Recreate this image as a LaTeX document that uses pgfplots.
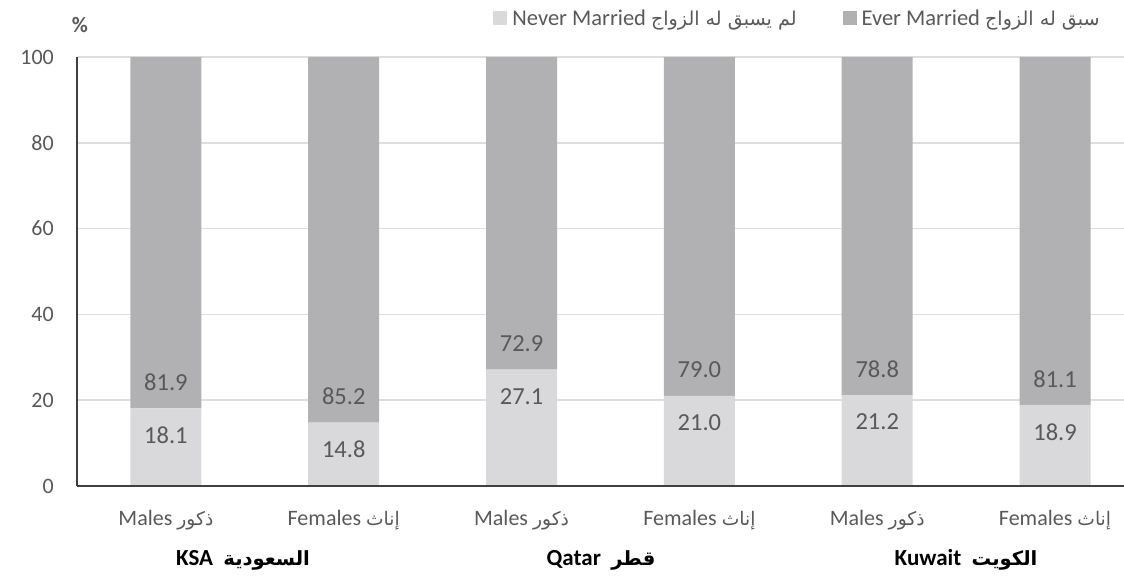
\documentclass[border=0pt]{standalone}
\usepackage{pgfplots}
\pgfplotsset{compat=1.18}
\usepackage{pgfplotstable}
\usepackage{fontspec}
\setmainfont{Carlito}
\newfontfamily\arabicfont[Script=Arabic,Scale=0.85]{DejaVu Sans}
\TeXXeTstate=1
\definecolor{nevc}{HTML}{D9D9DB}
\definecolor{evc}{HTML}{B1B1B3}
\definecolor{txt}{HTML}{595959}
\definecolor{gridc}{HTML}{DEDEDE}
\definecolor{axl}{HTML}{404040}
\newcommand{\ar}[1]{{\arabicfont\beginR #1\endR}}

\pgfplotstableread{
x never ever
0 18.1 81.9
1 14.8 85.2
2 27.1 72.9
3 21.0 79.0
4 21.2 78.8
5 18.9 81.1
}\datatable

\begin{document}
\begin{tikzpicture}[x=1pt,y=1pt]
\clip (0,0) rectangle (1124,579);
\pgfplotsset{base/.style={scale only axis, width=1067pt, height=429pt,
  at={(77pt,93pt)}, anchor=south west, xmin=-0.5, xmax=5.5, ymin=0, ymax=100,
  /pgf/number format/assume math mode=true}}
\begin{axis}[base, ybar stacked, bar width=71pt,
  axis line style={draw=none},
  ymajorgrids, grid style={draw=gridc, line width=1.5pt},
  ytick={0,20,...,100}, xtick={0,...,5},
  xticklabels={Males \ar{ذكور}, Females \ar{إناث}, Males \ar{ذكور}, Females \ar{إناث}, Males \ar{ذكور}, Females \ar{إناث}},
  major tick length=0pt,
  tick label style={font=\fontsize{22}{26}\selectfont, text=txt},
  yticklabel style={anchor=east, inner sep=0pt, xshift=-23pt},
  xticklabel style={anchor=base, inner sep=0pt, yshift=-39pt},
  legend columns=2,
  legend style={draw=none, fill=none, at={(axis description cs:0.9634,1.091)}, anchor=east,
    font=\fontsize{22.5}{26}\selectfont, text=txt,
    /tikz/every odd column/.append style={column sep=3pt},
    /tikz/every even column/.append style={column sep=44pt}},
  legend image code/.code={\fill[#1] (0pt,-7pt) rectangle (14pt,7pt);},
]
\addplot[fill=nevc, draw=none] table[x=x, y=never] {\datatable};
\addlegendentry{Never Married \ar{لم يسبق له الزواج}}
\addplot[fill=evc, draw=none] table[x=x, y=ever] {\datatable};
\addlegendentry{Ever Married \ar{سبق له الزواج}}
\end{axis}
\begin{axis}[base, clip=false,
  axis x line=bottom, axis y line=left,
  axis line style={-, draw=axl, line width=1.8pt},
  xtick=\empty, ytick=\empty,
  nodes near coords={\pgfmathprintnumber[fixed,fixed zerofill,precision=1,assume math mode=true]{\pgfplotspointmeta}},
  every node near coord/.append style={font=\fontsize{24.5}{28}\selectfont, text=txt, anchor=center},
]
\addplot[draw=none, mark=none, point meta=explicit, nodes near coords style={yshift=-27pt}]
  table[x=x, y=never, meta=never] {\datatable};
\addplot[draw=none, mark=none, point meta=explicit, nodes near coords style={yshift=26pt}]
  table[x=x, y=never, meta=ever] {\datatable};
\end{axis}
\node[font=\bfseries\fontsize{22}{26}\selectfont, text=txt] at (80,554) {\%};
\node[font=\bfseries\fontsize{23}{27}\selectfont, anchor=base] at (243,14) {KSA\ \ \ar{السعودية}};
\node[font=\bfseries\fontsize{23}{27}\selectfont, anchor=base] at (601,14) {Qatar\ \ \ar{قطر}};
\node[font=\bfseries\fontsize{23}{27}\selectfont, anchor=base] at (966,14) {Kuwait\ \ \ar{الكويت}};
\end{tikzpicture}
\end{document}
